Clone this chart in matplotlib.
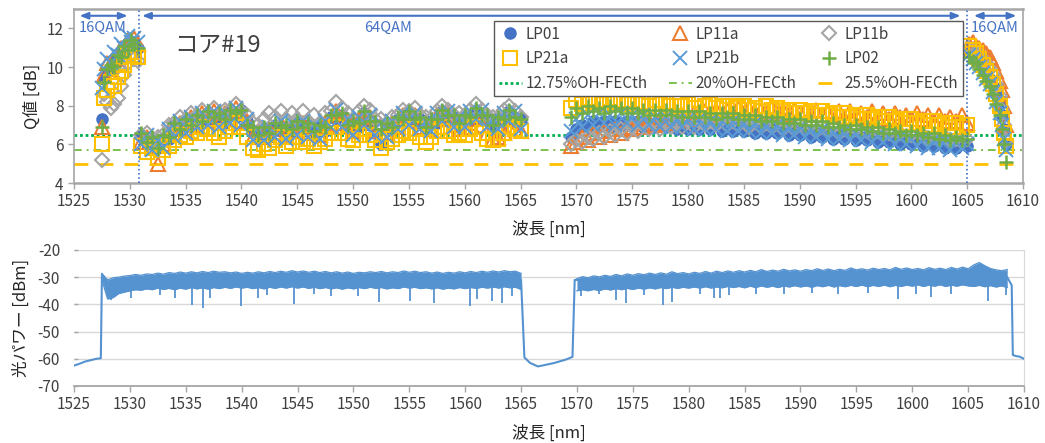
import numpy as np
import matplotlib
matplotlib.use('Agg')
import matplotlib.pyplot as plt

plt.rcParams['font.family'] = ['Noto Sans CJK JP', 'DejaVu Sans']
plt.rcParams['axes.unicode_minus'] = False

# ------------------------------------------------------------------ Q data
# channel wavelengths [nm]
wl_16a = [1527.5, 1527.7, 1528.0, 1528.3, 1528.6, 1528.9, 1529.2, 1529.5, 1529.8, 1530.1, 1530.4, 1530.7]
wl_64a = np.arange(1531.0, 1565.01, 0.5)   # 0.5 nm channel grid
wl_64b = np.arange(1569.5, 1605.01, 0.5)   # 0.5 nm channel grid
wl_16b = [1605.2, 1605.5, 1605.8, 1606.1, 1606.4, 1606.7, 1607.0, 1607.3, 1607.6, 1607.9, 1608.1, 1608.3, 1608.5]

# LP01
lp01_16a = [7.3, 9.4, 9.8, 10.0, 10.3, 10.5, 10.7, 10.9, 11.1, 11.2, 11.1, 11.0]
lp01_64a = [6.5, 6.0, 6.3, 5.8, 6.3, 6.3, 7.0, 6.7, 7.2, 6.9, 7.3, 7.1, 7.5, 7.2, 7.5, 7.1, 7.7, 7.4, 7.8, 7.2,
            6.7, 6.3, 6.8, 6.4, 7.0, 6.7, 6.9, 6.6, 7.1, 6.7, 7.0, 6.5, 6.9, 6.7, 7.4, 7.3, 7.5, 6.8, 7.1, 6.9,
            7.6, 7.0, 6.6, 6.0, 7.0, 6.7, 7.3, 7.1, 7.6, 7.1, 7.3, 6.7, 7.2, 7.1, 7.7, 7.2, 7.4, 6.9, 7.4, 7.2,
            7.8, 7.3, 7.4, 6.8, 7.3, 7.1, 7.7, 7.2, 7.3]
lp01_64b = [6.4, 6.8, 7.0, 6.9, 7.2, 7.0, 7.2, 6.9, 7.2, 7.0, 7.2,
            7.0, 7.2, 6.9, 7.1, 6.9, 7.1, 6.9, 7.1, 6.8, 7.0,
            6.8, 7.1, 6.8, 7.0, 6.8, 7.0, 6.7, 7.0, 6.7, 6.9,
            6.7, 6.9, 6.6, 6.9, 6.6, 6.8, 6.6, 6.8, 6.5, 6.7,
            6.5, 6.7, 6.4, 6.6, 6.4, 6.6, 6.3, 6.5, 6.3, 6.5,
            6.2, 6.4, 6.2, 6.4, 6.1, 6.3, 6.1, 6.3, 6.0, 6.2,
            6.0, 6.2, 5.9, 6.1, 5.9, 6.1, 5.8, 6.0, 5.8, 6.0, 5.9]
lp01_16b = [10.8, 10.6, 10.5, 10.2, 10.0, 9.7, 9.4, 9.0, 8.6, 8.1, 7.5, 6.8, 6.0]

# LP11a
lp11a_16a = [6.9, 9.6, 10.2, 9.9, 10.5, 10.4, 11.0, 10.8, 11.4, 11.3, 11.5, 11.2]
lp11a_64a = [6.1, 6.4, 5.9, 5.0, 6.0, 6.7, 6.6, 7.1, 6.8, 7.4, 7.0, 7.6, 7.2, 7.7, 7.1, 7.6, 7.3, 7.9, 7.2, 7.2,
             6.4, 6.7, 6.4, 6.8, 6.6, 7.1, 6.5, 7.0, 6.7, 7.1, 6.6, 6.9, 6.5, 7.1, 7.0, 7.7, 7.1, 7.2, 6.7, 7.3,
             7.2, 7.4, 6.7, 7.0, 6.6, 7.1, 6.9, 7.5, 7.2, 7.5, 6.9, 7.1, 6.8, 7.5, 7.3, 7.6, 7.0, 6.8, 6.9, 7.1,
             7.3, 7.0, 6.6, 6.3, 6.4, 6.6, 6.9, 6.8, 6.7]
lp11a_64b = [5.9, 6.1, 6.4, 6.2, 6.6, 6.4, 6.7, 6.5, 6.8, 6.6, 6.9,
             6.8, 7.1, 6.9, 7.2, 7.0, 7.3, 7.1, 7.4, 7.2, 7.5,
             7.3, 7.6, 7.4, 7.7, 7.5, 7.8, 7.5, 7.8, 7.6, 7.9,
             7.6, 7.9, 7.6, 7.8, 7.6, 7.9, 7.6, 7.8, 7.5, 7.8,
             7.6, 7.8, 7.5, 7.8, 7.5, 7.7, 7.5, 7.7, 7.4, 7.7,
             7.5, 7.6, 7.4, 7.7, 7.4, 7.6, 7.3, 7.6, 7.4, 7.5,
             7.3, 7.6, 7.3, 7.5, 7.2, 7.5, 7.2, 7.4, 7.2, 7.5, 7.1]
lp11a_16b = [11.2, 11.3, 11.1, 11.0, 10.9, 10.7, 10.5, 10.2, 9.8, 9.3, 8.8, 8.0, 7.0]

# LP11b
lp11b_16a = [5.2, 8.6, 8.2, 7.9, 8.1, 8.4, 9.0, 9.6, 10.2, 10.5, 10.4, 10.3]
lp11b_64a = [6.5, 6.6, 6.3, 6.4, 6.5, 7.0, 7.1, 7.4, 7.3, 7.6, 7.5, 7.8, 7.6, 7.9, 7.6, 7.8, 7.8, 8.1, 7.7, 7.5,
             7.1, 7.0, 7.3, 7.6, 7.4, 7.7, 7.3, 7.6, 7.3, 7.7, 7.2, 7.5, 7.1, 7.6, 7.7, 8.2, 7.9, 7.6, 7.3, 7.7,
             8.0, 7.8, 7.3, 7.3, 7.1, 7.4, 7.5, 7.8, 7.7, 7.9, 7.5, 7.4, 7.3, 7.7, 8.0, 7.8, 7.5, 7.6, 7.5, 7.8,
             8.1, 7.8, 7.5, 7.4, 7.4, 7.8, 8.0, 7.7, 7.4]
lp11b_64b = [6.0, 6.2, 6.1, 6.4, 6.3, 6.6, 6.4, 6.7, 6.5, 6.8, 6.6,
             6.9, 6.7, 7.0, 6.8, 7.0, 6.8, 7.1, 6.9, 7.1, 6.9,
             7.2, 6.9, 7.2, 7.0, 7.2, 7.0, 7.3, 7.0, 7.2, 7.0,
             7.2, 6.9, 7.2, 6.9, 7.1, 6.9, 7.1, 6.8, 7.1, 6.8,
             7.0, 6.8, 7.0, 6.7, 6.9, 6.7, 6.9, 6.6, 6.8, 6.6,
             6.8, 6.6, 6.7, 6.5, 6.7, 6.5, 6.6, 6.4, 6.6, 6.4,
             6.5, 6.3, 6.5, 6.3, 6.4, 6.2, 6.4, 6.2, 6.3, 6.1, 6.3]
lp11b_16b = [11.0, 10.9, 10.8, 10.6, 10.4, 10.2, 9.9, 9.6, 9.1, 8.5, 7.8, 7.0, 6.2]

# LP21a
lp21a_16a = [6.0, 8.4, 8.8, 9.2, 9.0, 9.5, 9.8, 10.1, 10.6, 10.8, 10.6, 10.5]
lp21a_64a = [5.9, 5.6, 5.8, 5.3, 5.7, 5.9, 6.2, 6.5, 6.4, 6.7, 6.6, 6.9, 6.8, 6.6, 6.4, 6.7, 6.9, 7.1, 6.9, 6.4,
             5.8, 5.7, 6.0, 5.8, 6.2, 6.4, 5.9, 6.1, 6.4, 6.1, 6.3, 5.9, 6.1, 6.3, 6.6, 6.9, 6.6, 6.3, 6.2, 6.5,
             6.8, 6.5, 6.2, 5.8, 6.1, 6.3, 6.5, 6.7, 6.6, 6.8, 6.4, 6.1, 6.4, 6.7, 6.9, 6.7, 6.5, 6.6, 6.5, 6.8,
             6.9, 6.6, 6.3, 6.2, 6.3, 6.6, 6.9, 6.8, 6.7]
lp21a_64b = [7.9, 8.3, 8.1, 8.4, 8.2, 8.3, 8.1, 8.4, 8.2, 8.3, 8.1,
             8.3, 8.1, 8.2, 8.0, 8.3, 8.1, 8.2, 8.0, 8.2, 8.0,
             8.1, 7.9, 8.3, 8.0, 8.1, 7.9, 8.0, 7.8, 8.0, 7.9,
             8.0, 7.8, 7.9, 7.7, 8.0, 7.8, 7.9, 7.7, 7.8, 7.6,
             7.8, 7.6, 7.7, 7.5, 7.7, 7.5, 7.6, 7.4, 7.6, 7.4,
             7.5, 7.3, 7.5, 7.3, 7.4, 7.2, 7.4, 7.2, 7.3, 7.1,
             7.3, 7.1, 7.2, 7.0, 7.2, 7.0, 7.1, 6.9, 7.1, 6.9, 7.0]
lp21a_16b = [11.1, 10.9, 10.7, 10.4, 10.1, 9.8, 9.5, 9.1, 8.6, 8.0, 7.3, 6.6, 5.9]

# LP21b
lp21b_16a = [8.9, 9.9, 10.4, 10.2, 10.8, 10.6, 11.2, 11.0, 11.6, 11.3, 11.5, 11.3]
lp21b_64a = [6.0, 6.5, 5.7, 6.2, 5.8, 6.8, 6.4, 7.2, 6.6, 7.4, 6.9, 7.6, 7.0, 7.7, 6.9, 7.6, 7.1, 7.9, 7.0, 7.3,
             6.2, 6.8, 6.2, 6.9, 6.4, 7.2, 6.3, 7.1, 6.5, 7.2, 6.4, 7.0, 6.3, 7.2, 6.9, 7.8, 6.9, 7.3, 6.5, 7.4,
             7.0, 7.5, 6.5, 7.1, 6.4, 7.2, 6.8, 7.6, 7.0, 7.6, 6.8, 7.2, 6.7, 7.6, 7.2, 7.7, 6.9, 7.4, 6.9, 7.7,
             7.3, 7.8, 6.9, 7.3, 6.8, 7.6, 7.2, 7.7, 6.8]
lp21b_64b = [6.7, 7.3, 6.9, 7.5, 7.0, 7.6, 7.1, 7.5, 7.0, 7.6, 7.1,
             7.5, 7.0, 7.5, 7.0, 7.4, 6.9, 7.4, 6.9, 7.3, 6.9,
             7.3, 6.8, 7.3, 6.8, 7.2, 6.8, 7.2, 6.7, 7.2, 6.7,
             7.1, 6.7, 7.1, 6.6, 7.0, 6.6, 7.0, 6.5, 6.9, 6.5,
             6.9, 6.4, 6.8, 6.4, 6.8, 6.3, 6.7, 6.3, 6.7, 6.2,
             6.6, 6.2, 6.6, 6.1, 6.5, 6.1, 6.4, 6.0, 6.4, 6.0,
             6.3, 5.9, 6.3, 5.8, 6.2, 5.8, 6.2, 5.7, 6.1, 5.8, 6.0]
lp21b_16b = [10.6, 10.4, 10.2, 10.0, 9.7, 9.4, 9.1, 8.7, 8.2, 7.6, 7.0, 6.3, 5.7]

# LP02
lp02_16a = [6.9, 9.2, 9.9, 10.1, 10.0, 10.6, 10.5, 11.1, 10.9, 11.4, 11.2, 11.0]
lp02_64a = [6.6, 6.1, 6.4, 5.8, 6.5, 6.4, 7.1, 6.8, 7.3, 7.0, 7.5, 7.2, 7.7, 7.4, 7.6, 7.3, 7.8, 7.6, 7.8, 7.0,
            6.9, 6.5, 6.9, 6.6, 7.1, 6.9, 7.0, 6.8, 7.2, 6.9, 7.1, 6.7, 7.0, 6.9, 7.5, 7.5, 7.6, 7.0, 7.2, 7.1,
            7.7, 7.2, 7.2, 6.8, 7.1, 6.9, 7.4, 7.3, 7.7, 7.3, 7.4, 6.9, 7.3, 7.3, 7.8, 7.5, 7.5, 7.1, 7.5, 7.4,
            7.9, 7.5, 7.5, 7.0, 7.4, 7.3, 7.8, 7.4, 7.3]
lp02_64b = [7.4, 7.9, 7.6, 8.0, 7.7, 7.9, 7.6, 8.0, 7.7, 7.9, 7.6,
            7.9, 7.6, 7.8, 7.5, 7.8, 7.5, 7.8, 7.5, 7.7, 7.4,
            7.7, 7.4, 7.7, 7.4, 7.6, 7.3, 7.6, 7.4, 7.6, 7.3,
            7.5, 7.3, 7.5, 7.2, 7.4, 7.2, 7.4, 7.1, 7.3, 7.1,
            7.3, 7.0, 7.2, 7.0, 7.2, 6.9, 7.1, 6.9, 7.0, 6.8,
            7.0, 6.8, 6.9, 6.7, 6.9, 6.6, 6.8, 6.6, 6.7, 6.5,
            6.7, 6.5, 6.6, 6.4, 6.6, 6.3, 6.5, 6.2, 6.4, 6.2, 6.3]
lp02_16b = [10.5, 10.3, 10.2, 9.9, 9.6, 9.3, 9.0, 8.6, 8.1, 7.5, 6.8, 6.0, 5.1]

# FEC thresholds
fec_labels = ['12.75%OH-FECth', '20%OH-FECth', '25.5%OH-FECth']
fec_values = [6.5, 5.7, 5.0]

# ------------------------------------------------------------------ spectrum data
spec_wl_left = np.arange(1527.5, 1565.01, 0.5)
spec_hi_left = [-28.6, -31.0, -30.2, -30.0, -29.6, -29.4, -29.0, -29.3, -28.8, -29.0, -28.5, -28.9, -28.3, -28.6,
                -28.1, -28.5, -28.0, -28.4, -27.9, -28.3, -27.8, -28.2, -28.0, -28.4, -28.1, -28.6, -28.2, -28.5,
                -28.0, -28.4, -27.9, -28.3, -27.8, -28.2, -27.6, -28.1, -27.7, -28.2, -27.8, -28.3, -27.9, -28.4,
                -28.0, -28.5, -28.1, -28.6, -28.2, -28.4, -28.0, -28.3, -27.9, -28.4, -28.0, -28.3, -27.7, -28.2,
                -27.8, -28.3, -28.0, -28.5, -28.1, -28.6, -28.2, -28.5, -28.0, -28.4, -27.9, -28.3, -27.8, -28.2,
                -27.7, -28.1, -27.6, -28.0, -27.8, -28.6]
spec_lo_left = [-31.0, -38.0, -37.5, -36.0, -35.5, -35.0, -34.6, -34.8, -34.3, -34.6, -34.0, -34.5, -34.1, -34.6,
                -34.0, -34.4, -33.8, -34.3, -33.9, -34.4, -33.8, -34.2, -33.7, -34.1, -33.6, -34.0, -33.7, -34.2,
                -33.8, -34.3, -33.7, -34.1, -33.6, -34.0, -33.5, -34.0, -33.6, -34.1, -33.7, -34.2, -33.8, -34.3,
                -33.9, -34.4, -33.9, -34.3, -33.8, -34.2, -33.7, -34.1, -33.8, -34.3, -33.9, -34.2, -33.6, -34.0,
                -33.7, -34.2, -33.9, -34.3, -33.9, -34.4, -34.0, -34.3, -33.8, -34.2, -33.8, -34.1, -33.7, -34.0,
                -33.6, -34.0, -33.5, -33.9, -33.7, -34.5]
spec_wl_right = np.arange(1570.0, 1608.51, 0.5)
spec_hi_right = [-30.5, -29.8, -30.2, -29.5, -29.9, -29.3, -29.7, -29.0, -29.5, -28.8, -29.3, -28.7, -29.1, -28.5,
                 -29.0, -28.4, -28.9, -28.0, -28.7, -28.3, -28.8, -28.2, -28.6, -27.9, -28.5, -27.8, -28.3, -27.7,
                 -28.2, -27.6, -28.1, -27.5, -28.0, -27.2, -27.9, -27.4, -27.8, -27.1, -27.7, -27.3, -27.8, -27.2,
                 -27.6, -26.9, -27.5, -27.0, -27.6, -27.1, -27.5, -26.6, -27.3, -26.9, -27.4, -26.7, -27.2, -26.8,
                 -27.3, -26.4, -27.1, -26.6, -27.2, -26.8, -27.3, -26.5, -27.1, -26.7, -27.2, -26.4, -27.0, -26.3,
                 -26.9, -25.5, -24.6, -25.8, -26.8, -27.3, -27.6, -27.2]
spec_lo_right = [-35.0, -34.6, -35.0, -34.5, -34.9, -34.3, -34.7, -34.2, -34.6, -34.1, -34.5, -34.0, -34.4, -33.9,
                 -34.3, -33.8, -34.2, -33.7, -34.1, -33.7, -34.0, -33.6, -34.0, -33.5, -34.0, -33.6, -33.9, -33.4,
                 -33.8, -33.4, -33.9, -33.3, -33.8, -33.2, -33.7, -33.3, -33.8, -33.2, -33.6, -33.1, -33.6, -33.2,
                 -33.7, -33.1, -33.5, -33.0, -33.6, -33.1, -33.5, -33.0, -33.4, -32.9, -33.5, -33.0, -33.4, -32.9,
                 -33.5, -33.0, -33.4, -32.9, -33.3, -32.8, -33.4, -32.9, -33.3, -32.8, -33.4, -32.9, -33.3, -32.8,
                 -33.2, -33.4, -33.0, -33.5, -33.1, -33.6, -33.2, -33.8]
# out-of-band (ASE floor) segments, including the band edges
off1_wl = [1525.0, 1525.5, 1526.0, 1526.5, 1527.0, 1527.4, 1527.5]
off1_db = [-62.5, -61.8, -61.0, -60.5, -60.0, -59.8, -29.0]
off2_wl = [1565.0, 1565.3, 1565.8, 1566.5, 1567.0, 1568.0, 1569.0, 1569.6, 1569.8, 1570.0]
off2_db = [-31.0, -59.5, -61.5, -62.8, -62.4, -61.5, -60.3, -59.3, -31.0, -31.0]
off3_wl = [1608.5, 1608.9, 1609.0, 1609.3, 1609.6, 1610.0]
off3_db = [-30.0, -33.0, -58.6, -59.0, -59.2, -60.0]
# deep single-channel dips
dip_wl = [1528.3, 1530.1, 1532.7, 1534.0, 1535.6, 1536.5, 1537.2, 1539.9, 1541.5, 1542.3, 1544.7, 1546.5,
          1548.0, 1550.4, 1552.3, 1555.1, 1557.2, 1560.4, 1561.1, 1562.4, 1563.3, 1564.2,
          1570.4, 1572.0, 1573.5, 1574.4, 1576.0, 1577.7, 1578.5, 1581.0, 1582.3, 1582.8, 1583.6, 1586.0,
          1588.5, 1591.0, 1593.4, 1596.0, 1598.7, 1600.3, 1601.7, 1603.5, 1606.8, 1608.4]
dip_db = [-38.3, -37.5, -36.5, -37.8, -40.1, -41.4, -37.6, -40.5, -37.7, -36.5, -39.7, -36.2,
          -37.0, -36.8, -39.1, -38.6, -39.6, -40.5, -38.0, -38.8, -39.5, -36.8,
          -37.0, -36.2, -38.3, -39.6, -36.5, -40.1, -39.0, -36.3, -37.5, -37.5, -36.5, -36.0,
          -36.0, -35.8, -36.2, -35.9, -38.0, -36.3, -37.2, -36.0, -38.9, -36.5]

# ------------------------------------------------------------------ figure
W, H = 1045, 443
fig = plt.figure(figsize=(W / 100, H / 100), dpi=100)
ax1 = fig.add_axes([74 / W, 1 - 183 / H, 949 / W, 174 / H])
ax2 = fig.add_axes([74 / W, 1 - 386 / H, 950 / W, 136 / H])

tick_col = '#404040'
spine_col = '#A6A6A6'

series = [
    ('LP01', dict(marker='o', ms=8, mfc='#4472C4', mec='#4472C4', mew=1.0),
     [lp01_16a, lp01_64a, lp01_64b, lp01_16b]),
    ('LP11a', dict(marker='^', ms=9.5, mfc='none', mec='#ED7D31', mew=1.5),
     [lp11a_16a, lp11a_64a, lp11a_64b, lp11a_16b]),
    ('LP11b', dict(marker='D', ms=7.5, mfc='none', mec='#A5A5A5', mew=1.5),
     [lp11b_16a, lp11b_64a, lp11b_64b, lp11b_16b]),
    ('LP21a', dict(marker='s', ms=9.5, mfc='none', mec='#FFC000', mew=1.5),
     [lp21a_16a, lp21a_64a, lp21a_64b, lp21a_16b]),
    ('LP21b', dict(marker='x', ms=9.5, mec='#5B9BD5', mew=1.4),
     [lp21b_16a, lp21b_64a, lp21b_64b, lp21b_16b]),
    ('LP02', dict(marker='+', ms=10.5, mec='#70AD47', mew=1.8),
     [lp02_16a, lp02_64a, lp02_64b, lp02_16b]),
]
wl_all = np.concatenate([wl_16a, wl_64a, wl_64b, wl_16b])
handles = {}
for name, mk, parts in series:
    q = np.concatenate(parts)
    h, = ax1.plot(wl_all, q, ls='none', label=name, zorder=3, **mk)
    handles[name] = h

fec_styles = [dict(color='#00B050', ls=(0, (1, 1)), lw=2.0),
              dict(color='#7CC04F', ls=(0, (4, 2.5, 1, 2.5)), lw=1.4),
              dict(color='#FFC000', ls=(0, (5, 4)), lw=2.0)]
for lab, val, st in zip(fec_labels, fec_values, fec_styles):
    handles[lab] = ax1.axhline(val, label=lab, zorder=2, **st)

blue = '#4472C4'
for xv in (1530.8, 1605.0):
    ax1.axvline(xv, color=blue, ls=(0, (1, 1.5)), lw=1.2, zorder=4)

arrow_kw = dict(arrowstyle='<|-|>,head_length=0.5,head_width=0.2', color=blue, lw=1.5,
                shrinkA=0, shrinkB=0)
for x0, x1 in ((1525.5, 1529.8), (1531.1, 1604.4), (1605.6, 1609.4)):
    ax1.annotate('', xy=(x0, 12.65), xytext=(x1, 12.65), arrowprops=arrow_kw, zorder=5)
ax1.text(1527.6, 12.0, '16QAM', color=blue, fontsize=10.5, ha='center', va='center', zorder=5)
ax1.text(1553.1, 12.05, '64QAM', color=blue, fontsize=10.5, ha='center', va='center', zorder=5)
ax1.text(1607.5, 12.0, '16QAM', color=blue, fontsize=10.5, ha='center', va='center', zorder=5)
ax1.text(1537.9, 11.1, 'コア#19', color='#404040', fontsize=17, ha='center', va='center', zorder=5)

order = ['LP01', 'LP21a', fec_labels[0], 'LP11a', 'LP21b', fec_labels[1], 'LP11b', 'LP02', fec_labels[2]]
leg = ax1.legend([handles[k] for k in order], order, ncol=3, loc='upper left',
                 bbox_to_anchor=(0.4426, 0.931), fontsize=11, frameon=True, fancybox=False,
                 edgecolor='#595959', framealpha=1, borderpad=0.3, labelspacing=0.5,
                 handlelength=1.5, handletextpad=0.25, columnspacing=1.4, borderaxespad=0)
leg.get_frame().set_linewidth(1.0)
for t in leg.get_texts():
    t.set_color('#404040')
leg.set_zorder(6)

ax1.set_xlim(1525, 1610)
ax1.set_ylim(4, 13)
ax1.set_xticks(np.arange(1525, 1611, 5))
ax1.set_yticks([4, 6, 8, 10, 12])
ax1.set_xlabel('波長 [nm]', fontsize=12, color='#262626', labelpad=7)
ax1.set_ylabel('Q値 [dB]', fontsize=12, color='#262626', labelpad=4)
for s in ax1.spines.values():
    s.set_color(spine_col)
    s.set_linewidth(1.2)
ax1.spines['top'].set_linewidth(1.8)
ax1.spines['bottom'].set_linewidth(1.8)
ax1.tick_params(axis='both', colors=spine_col, labelcolor=tick_col, labelsize=11, length=4, width=1)

# spectrum
spec_col = '#5592D0'
ax2.fill_between(spec_wl_left, spec_lo_left, spec_hi_left, color=spec_col, lw=0, zorder=3)
ax2.plot(spec_wl_left, spec_hi_left, color=spec_col, lw=0.9, zorder=3)
ax2.plot(spec_wl_left, spec_lo_left, color=spec_col, lw=0.9, zorder=3)
ax2.fill_between(spec_wl_right, spec_lo_right, spec_hi_right, color=spec_col, lw=0, zorder=3)
ax2.plot(spec_wl_right, spec_hi_right, color=spec_col, lw=0.9, zorder=3)
ax2.plot(spec_wl_right, spec_lo_right, color=spec_col, lw=0.9, zorder=3)
for xs, ys in ((off1_wl, off1_db), (off2_wl, off2_db), (off3_wl, off3_db)):
    ax2.plot(xs, ys, color=spec_col, lw=1.5, zorder=3)
ax2.vlines(dip_wl, dip_db, -32.5, color=spec_col, lw=1.3, zorder=3)

ax2.set_xlim(1525, 1610)
ax2.set_ylim(-70, -20)
ax2.set_xticks(np.arange(1525, 1611, 5))
ax2.set_yticks(np.arange(-70, -19, 10))
ax2.grid(axis='y', color='#D9D9D9', lw=1)
ax2.set_axisbelow(True)
ax2.set_xlabel('波長 [nm]', fontsize=12, color='#262626', labelpad=8)
ax2.set_ylabel('光パワー [dBm]', fontsize=12, color='#262626', labelpad=6)
ax2.spines['left'].set_visible(False)
ax2.spines['top'].set_visible(False)
ax2.spines['right'].set_color('#D9D9D9')
ax2.spines['bottom'].set_color('#A6A6A6')
ax2.spines['bottom'].set_linewidth(1.3)
ax2.tick_params(axis='x', colors='#A6A6A6', labelcolor=tick_col, labelsize=11, length=4, width=1)
ax2.tick_params(axis='y', colors='#A6A6A6', labelcolor=tick_col, labelsize=11, length=3, width=1,
                direction='in', pad=10)

fig.savefig('out.png', dpi=100)
